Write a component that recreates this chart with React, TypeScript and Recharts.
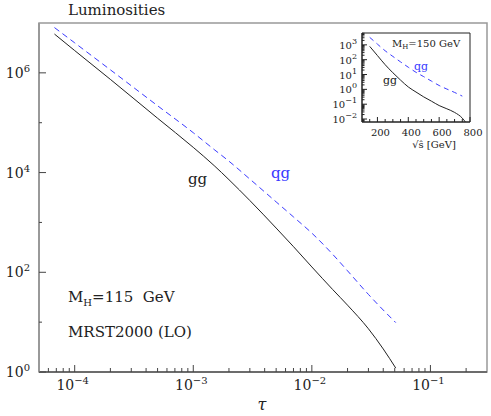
import React from 'react';
import { LineChart, Line, XAxis, YAxis, ReferenceArea } from 'recharts';

// main panel: luminosity vs tau (M_H = 115 GeV)
const tau = [6.75e-5, 1e-4, 2e-4, 5e-4, 1e-3, 1.5e-3, 2e-3, 3e-3, 5e-3, 7e-3, 1e-2, 1.5e-2, 2e-2, 3e-2, 4e-2, 5.1e-2];
const ggLum = [6.0e6, 2.8e6, 7.4e5, 1.23e5, 3.2e4, 1.38e4, 7.2e3, 2.75e3, 771, 327, 128, 45, 21.9, 7.36, 2.9, 1.2];
const qgLum = [8.1e6, 4.0e6, 1.15e6, 2.19e5, 6.3e4, 2.9e4, 1.69e4, 7.4e3, 2.58e3, 1.29e3, 610, 229, 107, 36, 17.5, 9.8];

const mainXMajor = [1e-4, 1e-3, 1e-2, 1e-1];
const mainXMinor = [
  6e-5, 7e-5, 8e-5, 9e-5,
  2e-4, 3e-4, 4e-4, 5e-4, 6e-4, 7e-4, 8e-4, 9e-4,
  2e-3, 3e-3, 4e-3, 5e-3, 6e-3, 7e-3, 8e-3, 9e-3,
  2e-2, 3e-2, 4e-2, 5e-2, 6e-2, 7e-2, 8e-2, 9e-2,
  2e-1,
];
const mainYTicks = [1, 10, 100, 1e3, 1e4, 1e5, 1e6];

// inset: luminosity vs sqrt(s-hat) (M_H = 150 GeV)
const sqrtS = [150, 200, 250, 300, 350, 400, 450, 500, 550, 600, 650, 700, 750, 770];
const ggInset = [790, 190, 46, 13.2, 4.2, 1.45, 0.66, 0.31, 0.16, 0.081, 0.049, 0.028, 0.0115, 0.0063];
const qgInset = [3200, 1120, 400, 166, 71, 31, 14.1, 7.2, 3.6, 1.82, 1.05, 0.62, 0.35, null];

const insetXMajor = [200, 400, 600, 800];
const insetXMinor = [150, 250, 300, 350, 450, 500, 550, 650, 700, 750];
const insetYMajor = [0.01, 0.1, 1, 10, 100, 1000];
const insetYMinor = [
  0.007, 0.008, 0.009,
  0.02, 0.03, 0.04, 0.05, 0.06, 0.07, 0.08, 0.09,
  0.2, 0.3, 0.4, 0.5, 0.6, 0.7, 0.8, 0.9,
  2, 3, 4, 5, 6, 7, 8, 9,
  20, 30, 40, 50, 60, 70, 80, 90,
  200, 300, 400, 500, 600, 700, 800, 900,
  2000, 3000, 4000, 5000, 6000,
];

const mainData = tau.map((t, i) => ({ tau: t, gg: ggLum[i], qg: qgLum[i] }));
const insetData = sqrtS.map((s, i) => ({ s, gg: ggInset[i], qg: qgInset[i] }));

const serif = '"DejaVu Serif", "Liberation Serif", serif';
const BLUE = '#3a3aff';

const expOf = (v: number) => {
  const e = Math.round(Math.log10(v));
  return e < 0 ? '\u2212' + -e : String(e);
};

const MainXTick = ({ x, y, payload }: any) => {
  const v = payload.value;
  const major = mainXMajor.includes(v);
  return (
    <g>
      <line x1={x} x2={x} y1={y} y2={y - (major ? 7 : 4)} stroke="#444" />
      {major && (
        <text x={x - 2} y={y + 18} textAnchor="middle" fontFamily={serif} fontSize={14} fill="#222">
          10<tspan dy={-6} fontSize={10}>{expOf(v)}</tspan>
        </text>
      )}
    </g>
  );
};

const MainYTick = ({ x, y, payload }: any) => {
  const v = payload.value;
  const e = Math.round(Math.log10(v));
  const major = e % 2 === 0;
  return (
    <g>
      <line x1={x} x2={x + (major ? 7 : 3)} y1={y} y2={y} stroke="#444" />
      {major && (
        <text x={x - 9} y={y + 5} textAnchor="end" fontFamily={serif} fontSize={14} fill="#222">
          10<tspan dy={-6} fontSize={10}>{expOf(v)}</tspan>
        </text>
      )}
    </g>
  );
};

const MainYRightTick = ({ x, y, payload }: any) => {
  const e = Math.round(Math.log10(payload.value));
  const major = e % 2 === 0;
  return <line x1={x} x2={x - (major ? 7 : 3)} y1={y} y2={y} stroke="#444" />;
};

const InsetXTick = ({ x, y, payload }: any) => {
  const v = payload.value;
  const major = insetXMajor.includes(v);
  return (
    <g>
      <line x1={x} x2={x} y1={y} y2={y - (major ? 5 : 3)} stroke="#222" />
      {major && (
        <text x={x + 3} y={y + 14} textAnchor="middle" fontFamily={serif} fontSize={10} fill="#222">
          {v}
        </text>
      )}
    </g>
  );
};

const InsetYTick = ({ x, y, payload }: any) => {
  const v = payload.value;
  const major = insetYMajor.includes(v);
  return (
    <g>
      <line x1={x} x2={x + (major ? 5 : 2.5)} y1={y} y2={y} stroke="#222" />
      {major && (
        <text x={x - 5} y={y + 4} textAnchor="end" fontFamily={serif} fontSize={10} fill="#222">
          10<tspan dy={-5} fontSize={8}>{expOf(v)}</tspan>
        </text>
      )}
    </g>
  );
};

const InsetYRightTick = ({ x, y, payload }: any) => {
  const major = insetYMajor.includes(payload.value);
  return <line x1={x} x2={x - (major ? 5 : 2.5)} y1={y} y2={y} stroke="#222" />;
};

export default function App() {
  return (
    <div style={{ position: 'absolute', left: 0, top: 0, width: 491, height: 416, background: '#fff' }}>
      <div style={{ position: 'absolute', left: 0, top: 0 }}>
        <LineChart width={491} height={416} data={mainData} margin={{ top: 23, right: 4, bottom: 0, left: 0 }}>
          <XAxis
            dataKey="tau"
            type="number"
            scale="log"
            domain={[5e-5, 0.3]}
            allowDataOverflow
            ticks={[...mainXMajor, ...mainXMinor]}
            interval={0}
            tickSize={0}
            tickMargin={0}
            height={44}
            axisLine={{ stroke: '#555', strokeWidth: 1.5 }}
            tick={<MainXTick />}
          />
          <YAxis
            type="number"
            scale="log"
            domain={[1, 1e7]}
            allowDataOverflow
            ticks={mainYTicks}
            interval={0}
            tickSize={0}
            tickMargin={0}
            width={39}
            axisLine={{ stroke: '#999', strokeWidth: 2 }}
            tick={<MainYTick />}
          />
          <YAxis
            yAxisId="r"
            orientation="right"
            type="number"
            scale="log"
            domain={[1, 1e7]}
            allowDataOverflow
            ticks={mainYTicks}
            interval={0}
            tickSize={0}
            tickMargin={0}
            width={0}
            axisLine={false}
            tick={<MainYRightTick />}
          />
          <ReferenceArea x1={5e-5} x2={0.3} y1={1} y2={1e7} fill="none" stroke="#999" strokeWidth={1.5} ifOverflow="visible" />
          <Line type="monotone" dataKey="qg" stroke={BLUE} strokeWidth={1} strokeDasharray="6 4" dot={false} isAnimationActive={false} />
          <Line type="monotone" dataKey="gg" stroke="#222" strokeWidth={1} dot={false} isAnimationActive={false} />
        </LineChart>
      </div>

      <div style={{ position: 'absolute', left: 320, top: 25 }}>
        <LineChart width={170} height={130} data={insetData} margin={{ top: 8, right: 20, bottom: 0, left: 0 }}>
          <XAxis
            dataKey="s"
            type="number"
            domain={[100, 800]}
            allowDataOverflow
            ticks={[...insetXMajor, ...insetXMinor]}
            interval={0}
            tickSize={0}
            tickMargin={0}
            height={33}
            axisLine={{ stroke: '#222' }}
            tick={<InsetXTick />}
          />
          <YAxis
            type="number"
            scale="log"
            domain={[0.0063, 6300]}
            allowDataOverflow
            ticks={[...insetYMajor, ...insetYMinor]}
            interval={0}
            tickSize={0}
            tickMargin={0}
            width={42}
            axisLine={{ stroke: '#222' }}
            tick={<InsetYTick />}
          />
          <YAxis
            yAxisId="r"
            orientation="right"
            type="number"
            scale="log"
            domain={[0.0063, 6300]}
            allowDataOverflow
            ticks={[...insetYMajor, ...insetYMinor]}
            interval={0}
            tickSize={0}
            tickMargin={0}
            width={0}
            axisLine={false}
            tick={<InsetYRightTick />}
          />
          <ReferenceArea x1={100} x2={800} y1={0.0063} y2={6300} fill="none" stroke="#222" strokeWidth={1} ifOverflow="visible" />
          <Line type="monotone" dataKey="qg" stroke={BLUE} strokeWidth={1} strokeDasharray="5 4" dot={false} isAnimationActive={false} />
          <Line type="monotone" dataKey="gg" stroke="#222" strokeWidth={1} dot={false} isAnimationActive={false} />
        </LineChart>
      </div>

      <svg width={491} height={416} style={{ position: 'absolute', left: 0, top: 0, pointerEvents: 'none' }} fontFamily={serif}>
        <text x={68} y={15} fontSize={15} fill="#222">Luminosities</text>
        <text x={188} y={184} fontSize={15} fill="#222">gg</text>
        <text x={271} y={178} fontSize={15} fill={BLUE}>qg</text>
        <text x={68} y={302} fontSize={15} fill="#222">
          M<tspan dy={4} fontSize={10}>H</tspan><tspan dy={-4}>=115{'\u00A0'} GeV</tspan>
        </text>
        <text x={68} y={337} fontSize={15} fill="#222">MRST2000 (LO)</text>
        <text x={262} y={410} fontSize={16} fontStyle="italic" textAnchor="middle" fill="#222">τ</text>

        <text x={392} y={47} fontSize={10} fill="#222">
          M<tspan dy={2} fontSize={7}>H</tspan><tspan dy={-2}>=150 GeV</tspan>
        </text>
        <text x={414} y={70} fontSize={11} fill={BLUE}>qg</text>
        <text x={383} y={84} fontSize={11} fill="#222">gg</text>
        <text x={434} y={148} fontSize={10} textAnchor="middle" fill="#222">√ŝ [GeV]</text>
      </svg>
    </div>
  );
}
